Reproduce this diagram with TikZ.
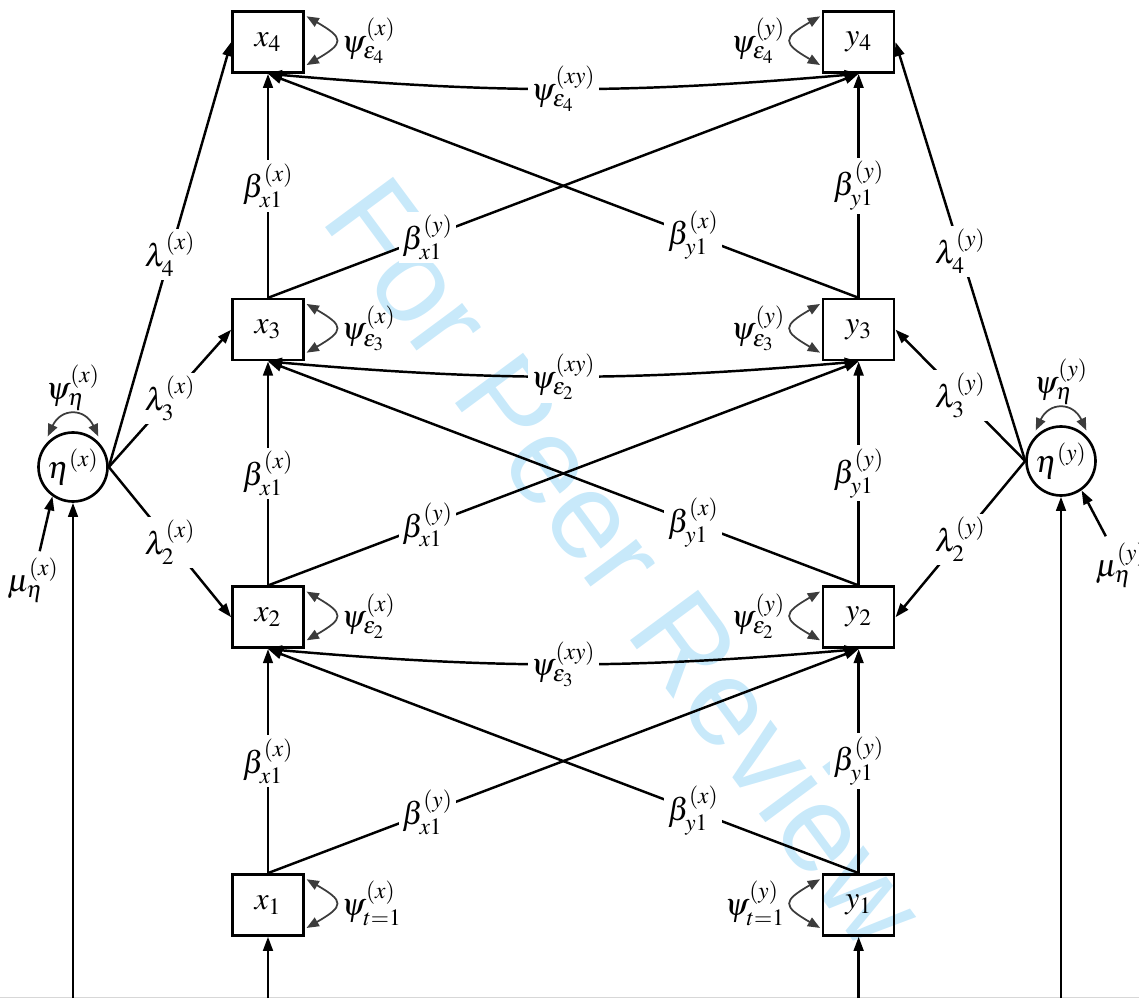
\documentclass[tikz,border=0pt]{standalone}
\usepackage{mathptmx}
\usepackage{fontspec}
\usetikzlibrary{arrows.meta,positioning}
\newfontfamily\wmfont{Liberation Sans}
\definecolor{wm}{RGB}{200,233,250}
\definecolor{covc}{RGB}{60,60,60}
\definecolor{edge}{RGB}{215,215,215}
\tikzset{
  obs/.style={rectangle,draw,line width=1.5pt,minimum width=1.42cm,
    minimum height=1.22cm,inner sep=0pt},
  lat/.style={circle,draw,line width=1.5pt,minimum size=1.38cm,inner sep=0pt},
  arr/.style={-{Triangle[length=8pt,width=5.5pt]},line width=1.4pt},
  lab/.style={fill=white,inner sep=2pt},
  cov/.style={{Triangle[length=8pt,width=5.5pt]}-{Triangle[length=8pt,width=5.5pt]},
    line width=1.4pt},
  selfx/.style={{Triangle[length=7pt,width=5.5pt]}-{Triangle[length=7pt,width=5.5pt]},
    line width=1pt,draw=covc,out=-30,in=30,looseness=2.3},
  selfy/.style={{Triangle[length=7pt,width=5.5pt]}-{Triangle[length=7pt,width=5.5pt]},
    line width=1pt,draw=covc,out=210,in=150,looseness=2.3},
}

\begin{document}
\begin{tikzpicture}[font=\fontsize{18}{21}\selectfont]
    \useasboundingbox (0,0) rectangle (22.78,19.96);

    % ── watermark ─────────────────────────────────────────────────────────────
    \node[text=wm,font=\wmfont\fontsize{70}{70}\selectfont,rotate=-53.5]
      (wmark) at (12.55,8.72) {For Peer Review};
    \draw[edge,line width=0.6pt] (0,0.01) -- (22.78,0.01);

    % ── x column ──────────────────────────────────────────────────────────────
    \node[obs] (x4) at (5.36,19.12) {$x_4$};
    \node[obs,below=4.48cm of x4] (x3) {$x_3$};
    \node[obs,below=4.48cm of x3] (x2) {$x_2$};
    \node[obs,below=4.48cm of x2] (x1) {$x_1$};

    % ── y column ──────────────────────────────────────────────────────────────
    \node[obs,right=10.34cm of x4] (y4) {$y_4$};
    \node[obs,right=10.34cm of x3] (y3) {$y_3$};
    \node[obs,right=10.34cm of x2] (y2) {$y_2$};
    \node[obs,right=10.34cm of x1] (y1) {$y_1$};

    % ── latent slopes ─────────────────────────────────────────────────────────
    \node[lat] (etax) at (1.46,10.62) {$\eta^{(x)}$};
    \node[lat] (etay) at (21.22,10.74) {$\eta^{(y)}$};
    \node (mux) at (0.66,8.36) {$\mu^{(x)}_{\eta}$};
    \node (muy) at (22.42,8.66) {$\mu^{(y)}_{\eta}$};

    \coordinate (bot) at (0,0);
    \coordinate (inex) at (etax |- bot);
    \coordinate (iney) at (etay |- bot);
    \coordinate (inx) at (x1 |- bot);
    \coordinate (iny) at (y1 |- bot);

    \draw[arr] (inex) -- (etax);
    \draw[arr] (iney) -- (etay);
    \draw[arr] (inx) -- (x1);
    \draw[arr] (iny) -- (y1);
    \draw[arr] (mux) -- (etax.235);
    \draw[arr] (muy) -- (etay.-55);

    \draw[selfx,out=65,in=115,looseness=1.6] ([yshift=3pt]etax.135) to
      node[above=-1pt] {$\psi^{(x)}_{\eta}$} ([yshift=3pt]etax.45);
    \draw[selfx,out=65,in=115,looseness=1.6] ([yshift=3pt]etay.135) to
      node[above=-1pt] {$\psi^{(y)}_{\eta}$} ([yshift=3pt]etay.45);

    % loadings
    \draw[arr] (etax.east) -- node[lab] {$\lambda^{(x)}_4$} (x4.west);
    \draw[arr] (etax.east) -- node[lab] {$\lambda^{(x)}_3$} (x3.west);
    \draw[arr] (etax.east) -- node[lab] {$\lambda^{(x)}_2$} (x2.west);
    \draw[arr] (etay.west) -- node[lab] {$\lambda^{(y)}_4$} (y4.east);
    \draw[arr] (etay.west) -- node[lab] {$\lambda^{(y)}_3$} (y3.east);
    \draw[arr] (etay.west) -- node[lab] {$\lambda^{(y)}_2$} (y2.east);

    % ── autoregressive and cross-lagged paths ────────────────────────────────
    \foreach \lo/\hi in {1/2,2/3,3/4}{
      \draw[arr] (x\lo.north) -- node[lab] {$\beta^{(x)}_{x1}$} (x\hi.south);
      \draw[arr] (y\lo.north) -- node[lab] {$\beta^{(y)}_{y1}$} (y\hi.south);
      \draw[arr] (x\lo.north) -- node[lab,pos=0.27] {$\beta^{(y)}_{x1}$} (y\hi.south);
      \draw[arr] (y\lo.north) -- node[lab,pos=0.28] {$\beta^{(x)}_{y1}$} (x\hi.south);
    }

    % ── residual covariances ─────────────────────────────────────────────────
    \draw[cov] (x4.south) to[bend right=5]
      node[lab] {$\psi^{(xy)}_{\varepsilon_4}$} (y4.south);
    \draw[cov] (x3.south) to[bend right=5]
      node[lab] {$\psi^{(xy)}_{\varepsilon_2}$} (y3.south);
    \draw[cov] (x2.south) to[bend right=5]
      node[lab] {$\psi^{(xy)}_{\varepsilon_3}$} (y2.south);

    % residual variances
    \draw[selfx] ([xshift=1pt,yshift=-3.5pt]x4.north east) to
      node[right] {$\psi^{(x)}_{\varepsilon_4}$} ([xshift=1pt,yshift=5pt]x4.south east);
    \draw[selfx] ([xshift=1pt,yshift=-3.5pt]x3.north east) to
      node[right] {$\psi^{(x)}_{\varepsilon_3}$} ([xshift=1pt,yshift=5pt]x3.south east);
    \draw[selfx] ([xshift=1pt,yshift=-3.5pt]x2.north east) to
      node[right] {$\psi^{(x)}_{\varepsilon_2}$} ([xshift=1pt,yshift=5pt]x2.south east);
    \draw[selfx] ([xshift=1pt,yshift=-3.5pt]x1.north east) to
      node[right] {$\psi^{(x)}_{t=1}$} ([xshift=1pt,yshift=5pt]x1.south east);
    \draw[selfy] ([xshift=-1pt,yshift=-3.5pt]y4.north west) to
      node[left] {$\psi^{(y)}_{\varepsilon_4}$} ([xshift=-1pt,yshift=5pt]y4.south west);
    \draw[selfy] ([xshift=-1pt,yshift=-3.5pt]y3.north west) to
      node[left] {$\psi^{(y)}_{\varepsilon_3}$} ([xshift=-1pt,yshift=5pt]y3.south west);
    \draw[selfy] ([xshift=-1pt,yshift=-3.5pt]y2.north west) to
      node[left] {$\psi^{(y)}_{\varepsilon_2}$} ([xshift=-1pt,yshift=5pt]y2.south west);
    \draw[selfy] ([xshift=-1pt,yshift=-3.5pt]y1.north west) to
      node[left] {$\psi^{(y)}_{t=1}$} ([xshift=-1pt,yshift=5pt]y1.south west);

\end{tikzpicture}
\end{document}
